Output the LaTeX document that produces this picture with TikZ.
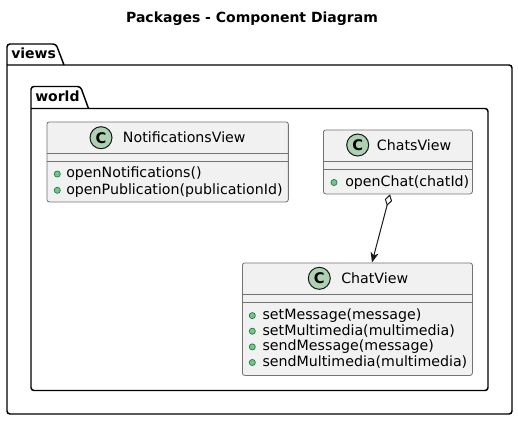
\documentclass[tikz,border=0pt]{standalone}
\usepackage{fontspec}
\setmainfont{DejaVu Sans}
\usetikzlibrary{arrows.meta,calc}
\definecolor{boxfill}{HTML}{F1F1F1}
\definecolor{iconfill}{HTML}{ADD1B2}
\definecolor{pubfill}{HTML}{84BE84}
\definecolor{pubdraw}{HTML}{038048}
\definecolor{linecol}{HTML}{181818}
\begin{document}
\begin{tikzpicture}[x=0.75pt,y=-0.75pt,
  font=\fontsize{10.65}{12.6}\selectfont,
  classbox/.style={draw=black!55, line width=0.6pt, fill=boxfill, rounded corners=1.8pt, inner sep=0pt, anchor=north west},
  sep/.style={draw=black!55, line width=0.6pt},
  pkg/.style={draw=black, line width=1.1pt, rounded corners=2.2pt},
  pkglabel/.style={anchor=base west, inner sep=0pt, font=\fontsize{10.5}{12.6}\selectfont\bfseries},
  txt/.style={anchor=base west, inner sep=0pt},
  icon/.style={circle, draw=linecol, line width=0.75pt, fill=iconfill, minimum size=16.5pt, inner sep=0pt, font=\fontsize{11}{12}\selectfont\bfseries},
  pub/.style={circle, draw=pubdraw, line width=0.5pt, fill=pubfill, minimum size=4.6pt, inner sep=0pt},
  agg/.style={draw=linecol, line width=0.75pt, {Diamond[open, length=9pt, width=5.6pt, fill=white]}-{Stealth[length=7.5pt, width=6pt, inset=2pt]}}
]
\useasboundingbox (0,0) rectangle (518,421);

% title
\node[anchor=base, inner sep=0pt, font=\fontsize{10.5}{12.6}\selectfont\bfseries] (title) at (252,22.5) {Packages - Component Diagram};

% packages
\draw[pkg] (64,65) -- (56,44) -- (7,44) -- (7,414) -- (512,414) -- (512,65) -- (7,65);
\node[pkglabel] (views) at (11,58) {views};
\draw[pkg] (88.5,108.5) -- (80.5,86.5) -- (31,86.5) -- (31,390.5) -- (488,390.5) -- (488,108.5) -- (31,108.5);
\node[pkglabel] (world) at (35,101) {world};

% NotificationsView
\node[classbox, minimum width=181.1pt, minimum height=60pt] (nv) at (46.5,121.5) {};
\draw[sep] ($(nv.north west)+(0,31.5)$) -- ($(nv.north east)+(0,31.5)$);
\draw[sep] ($(nv.north west)+(0,40)$) -- ($(nv.north east)+(0,40)$);
\node[icon] (nvicon) at (101,137.7) {C};
\node[txt] (nvname) at (122.7,142.3) {NotificationsView};
\node[pub] (nvb1) at (57.3,174) {};
\node[txt] (nvm1) at (66,177.8) {openNotifications()};
\node[pub] (nvb2) at (57.3,190.3) {};
\node[txt] (nvm2) at (66,194.1) {openPublication(publicationId)};

% ChatsView
\node[classbox, minimum width=111.75pt, minimum height=48pt] (cs) at (323,129.5) {};
\draw[sep] ($(cs.north west)+(0,32)$) -- ($(cs.north east)+(0,32)$);
\draw[sep] ($(cs.north west)+(0,39.5)$) -- ($(cs.north east)+(0,39.5)$);
\node[icon] (csicon) at (357.7,145) {C};
\node[txt] (csname) at (376.7,150.6) {ChatsView};
\node[pub] (csb1) at (334,182.5) {};
\node[txt] (csm1) at (345,186.3) {openChat(chatId)};

% ChatView
\node[classbox, minimum width=172.5pt, minimum height=84.4pt] (cv) at (242,262.5) {};
\draw[sep] ($(cv.north west)+(0,31.5)$) -- ($(cv.north east)+(0,31.5)$);
\draw[sep] ($(cv.north west)+(0,39.5)$) -- ($(cv.north east)+(0,39.5)$);
\node[icon] (cvicon) at (319.3,278.3) {C};
\node[txt] (cvname) at (341,283.3) {ChatView};
\node[pub] (cvb1) at (252.3,315.6) {};
\node[txt] (cvm1) at (262.3,319.4) {setMessage(message)};
\node[pub] (cvb2) at (252.3,331.2) {};
\node[txt] (cvm2) at (262.3,335) {setMultimedia(multimedia)};
\node[pub] (cvb3) at (252.3,346.9) {};
\node[txt] (cvm3) at (262.3,350.7) {sendMessage(message)};
\node[pub] (cvb4) at (252.3,362.5) {};
\node[txt] (cvm4) at (262.3,366.3) {sendMultimedia(multimedia)};

% aggregation
\draw[agg] ($(cs.south west)+(67,0)$) -- ($(cv.north west)+(130,0)$);
\end{tikzpicture}
\end{document}
